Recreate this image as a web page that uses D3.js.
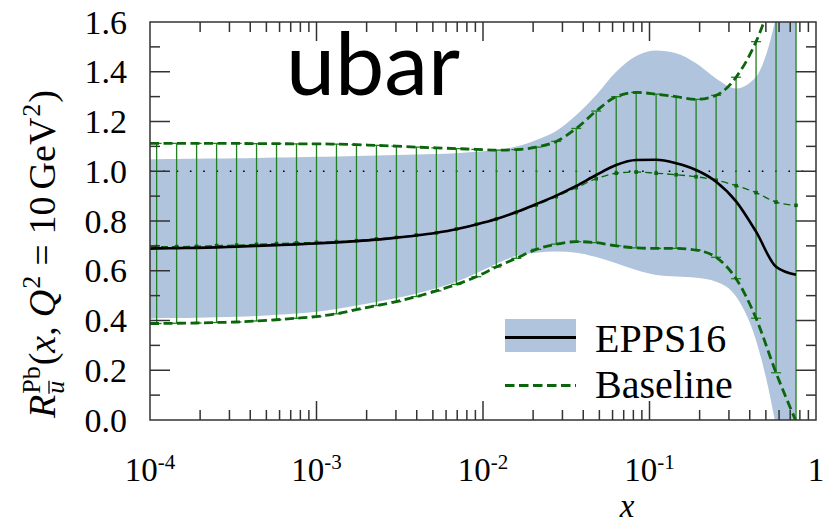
<!DOCTYPE html>
<html>
<head>
<meta charset="utf-8">
<script src="https://cdn.jsdelivr.net/npm/d3@7"></script>
<style>
  html, body { margin: 0; padding: 0; background: #fff; }
  svg { display: block; }
  .serif { font-family: "Liberation Serif", "Tinos", "DejaVu Serif", "Times New Roman", Times, serif; }
</style>
</head>
<body>
<svg id="chart" width="839" height="523"></svg>
<script>
// Baseline fit: x grid, central value and error band bounds
const baseX = [1.096e-4, 1.445e-4, 1.905e-4, 2.512e-4, 3.311e-4, 4.365e-4, 5.754e-4, 7.586e-4,
  1.0e-3, 1.318e-3, 1.738e-3, 2.291e-3, 3.020e-3, 3.981e-3, 5.248e-3, 6.918e-3, 9.120e-3,
  1.202e-2, 1.585e-2, 2.089e-2, 2.754e-2, 3.631e-2, 4.786e-2, 6.310e-2, 8.318e-2,
  0.1096, 0.1445, 0.1905, 0.2512, 0.3311, 0.4365, 0.5754, 0.7586];
const baseCentral = [0.697, 0.697, 0.698, 0.701, 0.703, 0.706, 0.709, 0.712, 0.714, 0.717,
  0.721, 0.728, 0.734, 0.744, 0.752, 0.768, 0.787, 0.808, 0.834, 0.864, 0.898, 0.934, 0.970,
  0.992, 0.997, 0.992, 0.986, 0.978, 0.964, 0.942, 0.914, 0.876, 0.863];
const baseUpper = [1.112, 1.112, 1.112, 1.112, 1.112, 1.111, 1.111, 1.110, 1.110, 1.109,
  1.107, 1.104, 1.101, 1.097, 1.094, 1.091, 1.088, 1.085, 1.087, 1.097, 1.120, 1.172, 1.242,
  1.300, 1.317, 1.310, 1.300, 1.289, 1.305, 1.378, 1.521, 1.740, 2.000];
const baseLower = [0.388, 0.389, 0.390, 0.392, 0.394, 0.398, 0.403, 0.409, 0.416, 0.427,
  0.444, 0.460, 0.476, 0.496, 0.519, 0.545, 0.576, 0.615, 0.650, 0.686, 0.707, 0.717, 0.713,
  0.700, 0.692, 0.690, 0.690, 0.683, 0.654, 0.568, 0.409, 0.190, -0.005];

// EPPS16: x grid, central curve and uncertainty band
const eppsX = [1.0e-4].concat(baseX);
const eppsCentral = [0.689, 0.690, 0.691, 0.692, 0.694, 0.697, 0.700, 0.703, 0.706, 0.710,
  0.714, 0.719, 0.725, 0.733, 0.742, 0.753, 0.767, 0.786, 0.808, 0.836, 0.868, 0.902, 0.941,
  0.985, 1.025, 1.045, 1.046, 1.032, 1.005, 0.958, 0.879, 0.757, 0.616, 0.584];
const eppsUpper = [1.047, 1.048, 1.049, 1.050, 1.051, 1.052, 1.053, 1.055, 1.056, 1.058,
  1.059, 1.061, 1.063, 1.065, 1.067, 1.069, 1.072, 1.078, 1.085, 1.099, 1.126, 1.162, 1.226,
  1.307, 1.400, 1.463, 1.485, 1.474, 1.434, 1.373, 1.333, 1.380, 1.620, 2.100];
const eppsLower = [0.407, 0.409, 0.410, 0.411, 0.413, 0.415, 0.418, 0.423, 0.428, 0.435,
  0.446, 0.460, 0.474, 0.490, 0.509, 0.530, 0.556, 0.590, 0.628, 0.660, 0.672, 0.677, 0.672,
  0.655, 0.630, 0.603, 0.583, 0.577, 0.572, 0.556, 0.496, 0.320, -0.030, -0.600];

// Axis ticks
const xMajorTicks = [1e-4, 1e-3, 1e-2, 1e-1, 1];
const xTickBase = ["10", "10", "10", "10", "1"];
const xTickExp = ["-4", "-3", "-2", "-1", ""];
const yMajorTicks = [0.0, 0.2, 0.4, 0.6, 0.8, 1.0, 1.2, 1.4, 1.6];
const yMinorTicks = [0.1, 0.3, 0.5, 0.7, 0.9, 1.1, 1.3, 1.5];
const legendLabels = ["EPPS16", "Baseline"];
const panelTitle = "ubar";

const svg = d3.select("#chart");
const W = 839, H = 523;
const m = { left: 150, right: W - 816, top: 22, bottom: H - 420 };
const x0 = m.left, x1 = W - m.right, y0 = m.top, y1 = H - m.bottom;

const x = d3.scaleLog().domain([1e-4, 1]).range([x0, x1]);
const y = d3.scaleLinear().domain([0, 1.6]).range([y1, y0]);

const green = "#0b650b";
const barGreen = "#237f23";
const band = "#b0c4de";

svg.append("defs").append("clipPath").attr("id", "plotClip")
  .append("rect").attr("x", x0).attr("y", y0).attr("width", x1 - x0).attr("height", y1 - y0);

const plot = svg.append("g").attr("clip-path", "url(#plotClip)");

// EPPS16 uncertainty band
const eppsRows = eppsX.map((xv, i) => ({ x: xv, c: eppsCentral[i], lo: eppsLower[i], hi: eppsUpper[i] }));
plot.append("path")
  .datum(eppsRows)
  .attr("fill", band)
  .attr("d", d3.area().curve(d3.curveMonotoneX)
    .x(d => x(d.x)).y0(d => y(d.lo)).y1(d => y(d.hi)));

// Reference line at R = 1
plot.append("line")
  .attr("x1", x0).attr("x2", x1).attr("y1", y(1)).attr("y2", y(1))
  .attr("stroke", "#000").attr("stroke-width", 1.3)
  .attr("stroke-dasharray", "1.6,11.7");

// Baseline error bars
const baseRows = baseX.map((xv, i) => ({ x: xv, c: baseCentral[i], lo: baseLower[i], hi: baseUpper[i] }));
const bars = plot.append("g").attr("stroke", barGreen).attr("stroke-width", 1.3);
bars.selectAll("line.bar").data(baseRows).join("line").attr("class", "bar")
  .attr("x1", d => x(d.x)).attr("x2", d => x(d.x))
  .attr("y1", d => y(d.lo)).attr("y2", d => y(d.hi));
bars.selectAll("line.capHi").data(baseRows).join("line").attr("class", "capHi")
  .attr("x1", d => x(d.x) - 5).attr("x2", d => x(d.x) + 5)
  .attr("y1", d => y(d.hi)).attr("y2", d => y(d.hi));
bars.selectAll("line.capLo").data(baseRows).join("line").attr("class", "capLo")
  .attr("x1", d => x(d.x) - 5).attr("x2", d => x(d.x) + 5)
  .attr("y1", d => y(d.lo)).attr("y2", d => y(d.lo));

// Baseline curves, starting from the left edge of the x range
const baseLine = key => d3.line().curve(d3.curveMonotoneX)
  .x(d => x(d.x)).y(d => y(d[key]));
const baseExt = [{ x: 1e-4, c: baseCentral[0], lo: baseLower[0], hi: baseUpper[0] }].concat(baseRows);

["hi", "lo"].forEach(k => {
  plot.append("path").datum(baseExt)
    .attr("fill", "none").attr("stroke", green).attr("stroke-width", 2.8)
    .attr("stroke-dasharray", "9,4.5")
    .attr("d", baseLine(k));
});
plot.append("path").datum(baseExt)
  .attr("fill", "none").attr("stroke", green).attr("stroke-width", 1.3)
  .attr("stroke-dasharray", "7,4")
  .attr("d", baseLine("c"));
plot.append("g").attr("fill", green)
  .selectAll("rect").data(baseRows).join("rect")
  .attr("x", d => x(d.x) - 1.8).attr("y", d => y(d.c) - 1.8)
  .attr("width", 3.6).attr("height", 3.6);

// EPPS16 central curve
plot.append("path").datum(eppsRows)
  .attr("fill", "none").attr("stroke", "#000").attr("stroke-width", 2.6)
  .attr("d", d3.line().curve(d3.curveMonotoneX).x(d => x(d.x)).y(d => y(d.c)));

// Frame and ticks (inward, on all four sides)
const axisColor = "#333";
const frame = svg.append("g").attr("stroke", axisColor).attr("stroke-width", 1.5);
frame.append("rect").attr("x", x0).attr("y", y0).attr("width", x1 - x0).attr("height", y1 - y0)
  .attr("fill", "none");

const xMinor = [];
xMajorTicks.slice(0, -1).forEach(d => { for (let k = 2; k <= 9; k++) xMinor.push(d * k); });

function xTick(v, len) {
  frame.append("line").attr("x1", x(v)).attr("x2", x(v)).attr("y1", y1).attr("y2", y1 - len);
  frame.append("line").attr("x1", x(v)).attr("x2", x(v)).attr("y1", y0).attr("y2", y0 + len);
}
function yTick(v, len) {
  frame.append("line").attr("x1", x0).attr("x2", x0 + len).attr("y1", y(v)).attr("y2", y(v));
  frame.append("line").attr("x1", x1).attr("x2", x1 - len).attr("y1", y(v)).attr("y2", y(v));
}
xMajorTicks.slice(1, -1).forEach(v => xTick(v, 19));
xMinor.forEach(v => xTick(v, 10));
yMajorTicks.slice(1, -1).forEach(v => yTick(v, 20));
yMinorTicks.forEach(v => yTick(v, 10));

// Tick labels
svg.append("g").attr("class", "serif").selectAll("text").data(yMajorTicks).join("text")
  .attr("x", 127).attr("y", d => y(d)).attr("dy", "0.34em")
  .attr("text-anchor", "end")
  .attr("font-size", 34).attr("fill", "#000")
  .text(d => d.toFixed(1));

const xl = svg.append("g").attr("class", "serif").attr("fill", "#000");
xMajorTicks.forEach((v, i) => {
  const t = xl.append("text").attr("x", x(v)).attr("y", 481).attr("text-anchor", "middle");
  t.append("tspan").attr("font-size", 33).text(xTickBase[i]);
  if (xTickExp[i]) t.append("tspan").attr("font-size", 21).attr("dy", -12).text(xTickExp[i]);
});

// Axis titles
svg.append("text").attr("class", "serif").attr("x", 627).attr("y", 517).attr("text-anchor", "middle")
  .attr("font-style", "italic").attr("font-size", 33)
  .text("x");

const yl = svg.append("g").attr("class", "serif").attr("transform", "translate(55,418) rotate(-90)")
  .attr("fill", "#000");
let cx = 0;
function piece(str, opts) {
  const o = Object.assign({ size: 38, italic: false, dy: 0, advance: true, gapBefore: 0 }, opts || {});
  cx += o.gapBefore;
  const t = yl.append("text").attr("x", cx).attr("y", o.dy)
    .attr("font-size", o.size).attr("font-style", o.italic ? "italic" : "normal")
    .text(str);
  const w = t.node().getComputedTextLength();
  if (o.advance) cx += w;
  return { node: t, w: w };
}
piece("R", { italic: true });
const supStart = cx;
const pb = piece("Pb", { size: 26, dy: -15, advance: false, gapBefore: 1 });
const ub = piece("u", { size: 26, italic: true, dy: 9, advance: false });
yl.append("line").attr("x1", supStart + 1).attr("x2", supStart + ub.w + 1)
  .attr("y1", -6).attr("y2", -6).attr("stroke", "#000").attr("stroke-width", 1.3);
cx = supStart + Math.max(pb.w, ub.w);
piece("(", { gapBefore: 2 });
piece("x", { italic: true });
piece(",");
piece("Q", { italic: true, gapBefore: 9 });
piece("2", { size: 26, dy: -15, gapBefore: 1 });
piece("=", { gapBefore: 10 });
piece("10", { gapBefore: 10 });
piece("GeV", { gapBefore: 7 });
piece("2", { size: 26, dy: -15, gapBefore: 1 });
piece(")", { gapBefore: 1 });

// Panel title
svg.append("text").attr("x", 286).attr("y", 95)
  .style("font-family", "Lato, 'Open Sans', sans-serif").attr("font-size", 88)
  .attr("fill", "#000").text(panelTitle);

// Legend
const lg = svg.append("g");
lg.append("rect").attr("x", 505).attr("y", 319).attr("width", 71).attr("height", 33).attr("fill", band);
lg.append("line").attr("x1", 505).attr("x2", 576).attr("y1", 337.5).attr("y2", 337.5)
  .attr("stroke", "#000").attr("stroke-width", 2.8);
lg.append("line").attr("x1", 505).attr("x2", 576).attr("y1", 385.5).attr("y2", 385.5)
  .attr("stroke", green).attr("stroke-width", 2.8).attr("stroke-dasharray", "9.5,4.5");
lg.selectAll("text").data(legendLabels).join("text")
  .attr("class", "serif")
  .attr("x", 595).attr("y", (d, i) => 351.5 + i * 46.8)
  .attr("font-size", 40).attr("fill", "#000")
  .text(d => d);
</script>
</body>
</html>
